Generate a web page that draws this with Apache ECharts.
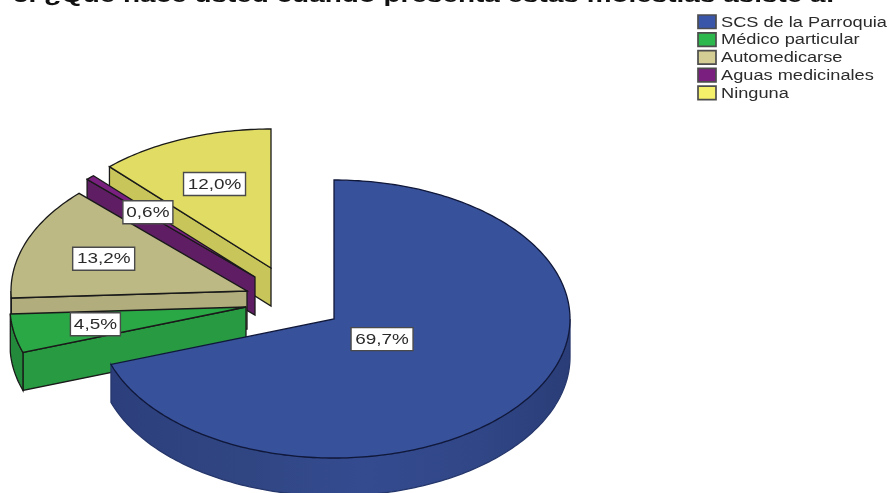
<!DOCTYPE html>
<html>
<head>
<meta charset="utf-8">
<style>html,body{margin:0;padding:0;background:#fff}#main{width:891px;height:493px}</style>
<script src="https://cdn.jsdelivr.net/npm/echarts@6/dist/echarts.min.js"></script>
</head>
<body>
<div id="main"></div>
<script>
// Survey answers, in percent
const titleText = '5. ¿Qué hace usted cuando presenta estas molestias asiste a:';
const categories = ['SCS de la Parroquia', 'Médico particular', 'Automedicarse', 'Aguas medicinales', 'Ninguna'];
const percentages = [69.7, 4.5, 13.2, 0.6, 12.0];

// Colours per slice
const topColors = ['#38519b', '#2aa845', '#bdb985', '#7a2080', '#e1dd64'];
const sideColors = ['#2f4586', '#289a42', '#b1ad7c', '#5f1e64', '#c8c55a'];
const rimColors = ['#2f4586', '#248a3b', '#a8a475', '#5f1e64', '#c0bd55'];
const legendColors = ['#3a56a8', '#2db84d', '#d4cd94', '#7a1f7f', '#f5f06a'];

// Drawing geometry of the tilted, exploded pie
const RX = 236, RY = 139, DEPTH = 38;
const apexX = [334, 246, 247, 255, 271];
const apexY = [319, 307, 291, 277, 268];
const labelReach = [0.25, 0.65, 0.65, 0.65, 0.65];

const rad = d => d * Math.PI / 180;
const spans = percentages.map(p => p * 3.6);
const starts = spans.map((_, i) => spans.slice(0, i).reduce((a, b) => a + b, 0));
const rimPoint = (i, deg, drop) => [
  apexX[i] + RX * Math.sin(rad(deg)),
  apexY[i] - RY * Math.cos(rad(deg)) + (drop || 0)
];

function arcPoints(i, from, to, drop) {
  const pts = [];
  const n = Math.max(2, Math.ceil(Math.abs(to - from)));
  for (let k = 0; k <= n; k++) pts.push(rimPoint(i, from + (to - from) * k / n, drop));
  return pts;
}

function renderSlice(i, value) {
  const span = value * 3.6, from = starts[i], to = from + span;
  const outline = i === 0 ? '#10183a' : '#1a1a1a';
  const children = [];
  const ax = apexX[i], ay = apexY[i];
  const face = (a) => {
    const p = rimPoint(i, a);
    children.push({
      type: 'polygon',
      shape: { points: [[ax, ay], p, [p[0], p[1] + DEPTH], [ax, ay + DEPTH]] },
      style: { fill: sideColors[i], stroke: outline, lineWidth: 1.3 }
    });
  };
  // Cut faces turned toward the viewer
  if (Math.sin(rad(from)) < -1e-6) face(from);
  if (Math.sin(rad(to)) > 1e-6) face(to);
  // Outer wall, only its front half shows
  const a0 = Math.max(from, 90), a1 = Math.min(to, 270);
  if (a1 > a0) {
    const upper = arcPoints(i, a0, a1, 0);
    const lower = arcPoints(i, a1, a0, DEPTH);
    const fill = i === 0 ? {
      type: 'linear', x: 0, y: 0, x2: 1, y2: 0,
      colorStops: [
        { offset: 0, color: '#2c3f7c' }, { offset: 0.3, color: '#304683' },
        { offset: 0.55, color: '#344b90' }, { offset: 0.8, color: '#304686' },
        { offset: 1, color: '#2a3d78' }
      ]
    } : rimColors[i];
    children.push({
      type: 'polygon',
      shape: { points: upper.concat(lower) },
      style: { fill, stroke: i === 0 ? '#26376c' : outline, lineWidth: 1.3 }
    });
  }
  // Top surface
  children.push({
    type: 'polygon',
    shape: { points: [[ax, ay]].concat(arcPoints(i, from, to, 0)) },
    style: { fill: topColors[i], stroke: outline, lineWidth: 1.3 }
  });
  return { type: 'group', children };
}

function renderLabel(i, value) {
  const mid = starts[i] + value * 1.8;
  const cx = apexX[i] + RX * labelReach[i] * Math.sin(rad(mid));
  const cy = apexY[i] - RY * labelReach[i] * Math.cos(rad(mid));
  const text = value.toFixed(1).replace('.', ',') + '%';
  const w = text.length > 4 ? 62 : 50, h = 23;
  return {
    type: 'group',
    children: [
      {
        type: 'rect',
        shape: { x: cx - w / 2, y: cy - h / 2, width: w, height: h },
        style: { fill: '#fff', stroke: '#4a4a4a', lineWidth: 1.4 }
      },
      {
        type: 'text',
        x: cx, y: cy + 0.5, scaleX: 1.26,
        style: {
          text, fill: '#2a2a2a', align: 'center', verticalAlign: 'middle',
          font: '15px "Liberation Sans", Arial, sans-serif'
        }
      }
    ]
  };
}

// Paint the back slices first so the front ones overlap them
const sliceSeries = categories.map((name, i) => ({
  type: 'custom',
  name,
  coordinateSystem: 'none',
  z: 10 - i + (i === 0 ? 10 : 0),
  silent: true,
  data: [[percentages[i]]],
  renderItem: (params, api) => renderSlice(i, api.value(0))
}));

const labelSeries = {
  type: 'custom',
  name: 'Porcentajes',
  coordinateSystem: 'none',
  z: 50,
  silent: true,
  data: percentages.map(p => [p]),
  renderItem: (params, api) => renderLabel(params.dataIndex, api.value(0))
};

// Legend rows and the clipped heading
const legendElements = [];
categories.forEach((name, i) => {
  const y = 21.5 + i * 17.8;
  legendElements.push({
    type: 'rect',
    shape: { x: 698, y: y - 6.5, width: 18, height: 13.5 },
    style: { fill: legendColors[i], stroke: '#4d4d4d', lineWidth: 1.7 }
  });
  legendElements.push({
    type: 'text',
    x: 721, y: y + 1.2, scaleX: 1.3,
    style: {
      text: name, fill: '#2b2b2b', align: 'left', verticalAlign: 'middle',
      font: '14px "Liberation Sans", Arial, sans-serif'
    }
  });
});
legendElements.push({
  type: 'text',
  x: 13, y: 6.5, scaleX: 1.395,
  style: {
    text: titleText, fill: '#111', align: 'left', verticalAlign: 'bottom',
    font: 'bold 20px "Liberation Sans", Arial, sans-serif'
  }
});

const chart = echarts.init(document.getElementById('main'), null, { renderer: 'canvas' });
chart.setOption({
  animation: false,
  backgroundColor: '#fff',
  graphic: { elements: legendElements },
  series: sliceSeries.concat([labelSeries])
});
</script>
</body>
</html>
